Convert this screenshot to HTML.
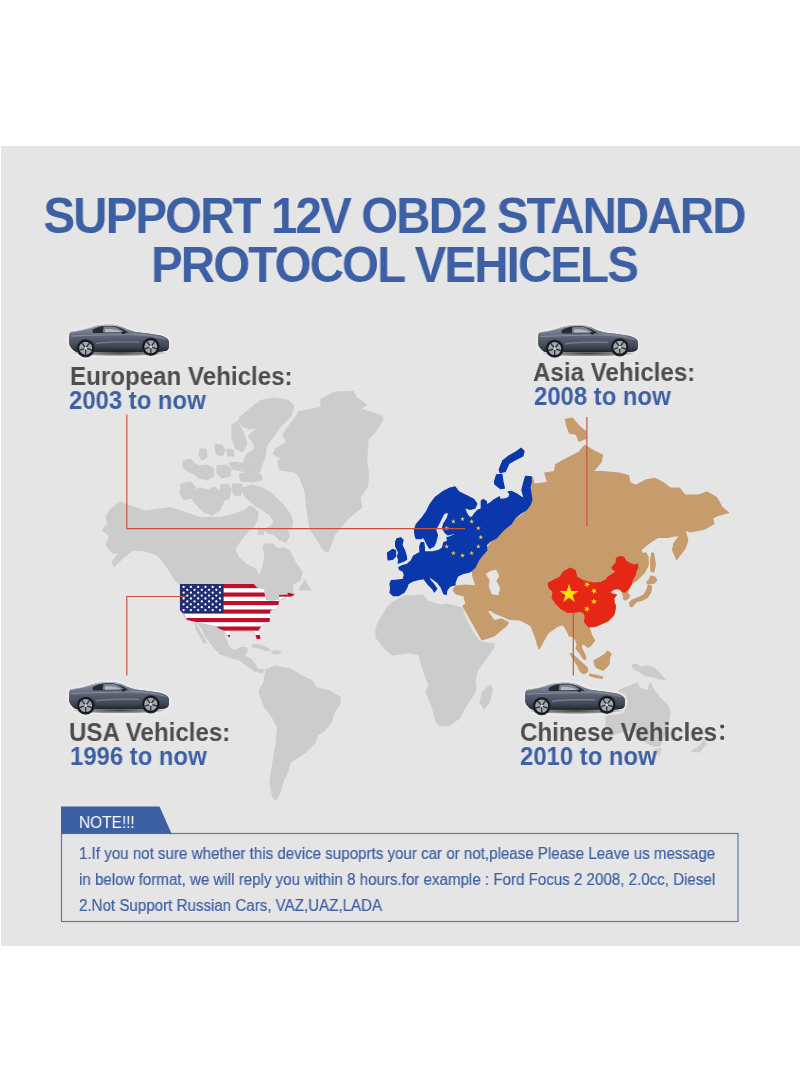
<!DOCTYPE html>
<html><head><meta charset="utf-8">
<style>
html,body{margin:0;padding:0;background:#fff;}
body{width:800px;height:1092px;position:relative;overflow:hidden;font-family:"Liberation Sans",sans-serif;}
#panel{position:absolute;left:1px;top:146px;width:799px;height:800px;background:#e5e5e5;}
.t{position:absolute;white-space:nowrap;will-change:transform;}
.title{left:-6.5px;width:800px;text-align:center;font-weight:bold;font-size:50px;color:#3d5fa3;letter-spacing:-2px;line-height:50px;transform:scaleX(0.95);transform-origin:400px 0;}
.lbl{font-weight:bold;font-size:25px;color:#4d4d4d;line-height:26px;transform:scaleX(0.965);transform-origin:0 0;}
.yr{font-weight:bold;font-size:25px;color:#3d5fa3;line-height:26px;transform:scaleX(0.955);transform-origin:0 0;}
.note{font-size:16px;color:#3d5fa3;-webkit-text-stroke:0.2px #3d5fa3;line-height:27px;transform:scaleX(0.945);transform-origin:0 0;}
#map{position:absolute;left:0;top:0;width:800px;height:1092px;}
</style></head><body>
<div id="panel"></div>
<svg id="map" viewBox="0 0 800 1092">
<defs>
<linearGradient id="cbody" x1="0" y1="0" x2="0" y2="1">
<stop offset="0" stop-color="#8f97a7"/><stop offset="0.28" stop-color="#707889"/><stop offset="0.5" stop-color="#565d6f"/><stop offset="0.78" stop-color="#434958"/><stop offset="1" stop-color="#23262e"/>
</linearGradient>
<linearGradient id="cbodyx" x1="0" y1="0" x2="1" y2="0">
<stop offset="0" stop-color="#20232b" stop-opacity="0.45"/><stop offset="0.12" stop-color="#20232b" stop-opacity="0"/><stop offset="0.68" stop-color="#20232b" stop-opacity="0"/><stop offset="0.78" stop-color="#20232b" stop-opacity="0.25"/><stop offset="0.92" stop-color="#aab2c0" stop-opacity="0.3"/><stop offset="1" stop-color="#20232b" stop-opacity="0.2"/>
</linearGradient>
<radialGradient id="cshadow" cx="0.5" cy="0.5" r="0.5"><stop offset="0" stop-color="#111" stop-opacity="0.8"/><stop offset="0.75" stop-color="#333" stop-opacity="0.45"/><stop offset="1" stop-color="#777" stop-opacity="0"/></radialGradient>
<radialGradient id="chalo" cx="0.5" cy="0.5" r="0.5"><stop offset="0.55" stop-color="#f2f2f2" stop-opacity="0.85"/><stop offset="1" stop-color="#f2f2f2" stop-opacity="0"/></radialGradient>
<symbol id="car" width="110" height="42" viewBox="-5 -5 110 42" overflow="visible">
<g stroke="#ececec" stroke-width="4.5" stroke-linejoin="round" fill="#ececec" opacity="0.85"><use href="#carb"/><circle cx="16.4" cy="23.4" r="8.6"/><circle cx="81.5" cy="22" r="8.6"/><ellipse cx="50" cy="28.5" rx="47" ry="2.5"/></g>
<ellipse cx="50" cy="28.2" rx="49" ry="3.2" fill="url(#cshadow)"/>
<path id="carb" d="M0,11.5 C0.2,9.5 0.5,8 1,7.3 C5,6.6 9,5.9 12.9,5.2 C16,4.4 19.5,3.4 22.7,2.4 C26,1.2 29,0.5 32.5,0.3 C36,0 40,-0.1 43.7,0 C46.2,0.3 48.5,0.8 50.7,1.4 C53,2.3 55.5,3.4 57.7,4.5 C60.5,5.6 63.3,6.5 66.1,7.3 C70,7.8 74.5,8.2 78.7,8.7 C83,9.2 87.3,9.9 91.3,10.8 C94,11.6 96.8,12.7 98.3,14.3 C99.3,15.5 99.7,17 99.7,18.5 C99.8,20.5 99.5,22.5 99,24.1 C98.3,25.4 97,26 95.5,26.2 L90,26.9 L7.3,26.9 C5,26.2 3.4,25 2.4,23.4 C1,22 0.2,20.5 0,18.5 Z" fill="url(#cbody)"/>
<use href="#carb" fill="url(#cbodyx)"/>
<path d="M1,7.5 C8,6.4 16,4.6 22.7,2.6 C27,1.2 31,0.6 36,0.5 C42,0.3 47,0.6 51,1.8" fill="none" stroke="#d5d9e0" stroke-width="0.7" opacity="0.8"/>
<path d="M23.4,5 C26.5,3.3 29.5,2 32.5,1.5 C37,1.1 41,1 45.1,1.2 C49.5,2.4 53,4 56.3,5.9 L59.1,8 L24.1,8.2 C23.2,7.2 23,6 23.4,5 Z" fill="#262a33"/>
<path d="M33.5,7.6 L34.2,2 C38,1.7 42,1.7 45,1.9 C48,2.9 51,4.4 53.5,6 L54.5,7.4 Z" fill="#9aa2b0" opacity="0.75"/>
<path d="M35.5,7.5 L36,4.2 C41,4 46,4.6 50,6 L52,7.4 Z" fill="#c9ced8" opacity="0.7"/>
<path d="M52,7 L55.6,7 L55.6,9.2 L53,9.2 Z" fill="#20232a"/>
<path d="M2,10.8 C20,9.8 45,9.6 62,9.2 L62,10 C45,10.6 20,10.9 2,12 Z" fill="#a7afbd" opacity="0.55"/>
<path d="M62,8.4 C74,8.6 86,10 96,13.4 L97,15 C86,12 74,10.6 62,10.4 Z" fill="#9199a8" opacity="0.55"/>
<path d="M27,17.6 C40,16.4 58,16.2 70,16.6 L70,18 C58,17.6 40,17.8 27,19.2 Z" fill="#8f97a6" opacity="0.6"/>
<path d="M26,25.6 L72,25.2 L72,26.9 L26,26.9 Z" fill="#23262e" opacity="0.7"/>
<circle cx="16.4" cy="23.4" r="9.2" fill="#2d3039"/>
<circle cx="81.5" cy="22" r="9.2" fill="#2d3039"/>
<circle cx="16.4" cy="23.4" r="8.2" fill="#14151a"/>
<circle cx="81.5" cy="22" r="8.2" fill="#14151a"/>
<circle cx="16.4" cy="23.4" r="6.5" fill="#a2a6ae"/>
<circle cx="81.5" cy="22" r="6.5" fill="#a2a6ae"/>
<g stroke="#2c2e34" stroke-width="1.3" stroke-linecap="butt">
<path d="M16.4,23.4 l0,-6.5 M16.4,23.4 l6.2,-2 M16.4,23.4 l3.8,5.3 M16.4,23.4 l-3.8,5.3 M16.4,23.4 l-6.2,-2" transform="rotate(36 16.4 23.4)"/>
<path d="M81.5,22 l0,-6.5 M81.5,22 l6.2,-2 M81.5,22 l3.8,5.3 M81.5,22 l-3.8,5.3 M81.5,22 l-6.2,-2" transform="rotate(36 81.5 22)"/>
</g>
<circle cx="16.4" cy="23.4" r="1.5" fill="#d0d3d8"/>
<circle cx="81.5" cy="22" r="1.5" fill="#d0d3d8"/>
</symbol>
</defs>

<g id="world" stroke="#cccccc" stroke-linejoin="round" stroke-width="1.2">
<path d="M106,517 L110,510 L120,502 L128,505 L145,511 L160,509 L170,507.5 L185,512.5 L200,517.5 L220,517.5 L235,514 L245,510 L250,506 L254,508 L258,512 L257,520 L254,526 L249,530 L244,536 L238,544 L235,550 L239,558 L247,565 L256,569 L259,577 L263,566 L265,556 L263,547 L265,544 L272.5,544 L277.5,549 L283,548 L289,550 L295,562 L302,572 L300,580 L292,585 L294,595 L280,600 L270,611 L269,620 L259,628 L258,634 L261,639 L258,640 L254,632 L230,631 L229,637 L222,631 L226,640 L229,647 L234,651 L241,647.5 L246,647.5 L247.5,651 L244,656 L251,659 L255,664 L257.5,669 L264,670 L262,673 L255,671 L247.5,666 L240,660 L230,657.5 L220,654 L212.5,645 L205,636 L202,628 L196,622 L186,619 L180,610 L180,585 L175,580 L167.5,567.5 L157.5,555 L145,551 L132.5,550 L124,557 L114,566 L112,562 L119,553 L112.5,553 L106,545 L110,536 L102.5,530 L108,524Z" fill="#cccccc" />
<path d="M195,623 L199,630 L203,637 L206,643 L204,643 L200,636 L196,629Z" fill="#cccccc" />
<path d="M305,580 L309,588 L311,590 L299,590Z" fill="#cccccc" />
<path d="M252,645 L258,644.5 L265,647 L270,650 L266,650.5 L259,648 L253,647Z" fill="#cccccc" />
<path d="M272,651 L277,650.5 L281,652.5 L277,654 L272,653Z" fill="#cccccc" />
<path d="M181,484 L190,482 L196,488 L192,498 L184,500 L180,493Z" fill="#cccccc" />
<path d="M194,492 L200,488 L208,490 L214,487 L221,492 L224,500 L220,510 L212,515 L204,512 L198,506 L193,500Z" fill="#cccccc" />
<path d="M183,461 L190,459 L195,464 L200,466 L206,465 L213,468 L214,476 L207,480 L199,478 L194,474 L188,471 L183,467Z" fill="#cccccc" />
<path d="M217,466 L225,465 L231,469 L230,476 L222,478 L217,473Z" fill="#cccccc" />
<path d="M221,485 L228,484 L231,490 L229,499 L223,500 L220,493Z" fill="#cccccc" />
<path d="M233,484 L241,484 L243,490 L240,496 L234,495 L232,489Z" fill="#cccccc" />
<path d="M200,449 L206,449 L207,457 L202,460 L199,455Z" fill="#cccccc" />
<path d="M215,444 L222,445 L225,451 L222,456 L216,454Z" fill="#cccccc" />
<path d="M227,449 L233,450 L234,456 L228,456Z" fill="#cccccc" />
<path d="M229,463 L236,462 L244,464 L252,466 L261,469 L259,473 L250,472 L241,471 L232,469Z" fill="#cccccc" />
<path d="M259,528 L264,530 L263,535 L258,534Z" fill="#cccccc" />
<path d="M239,474 L250,472 L261,475 L262,480 L252,482 L241,481Z" fill="#cccccc" />
<path d="M231.9,425.4 L237.4,421.25 L242.9,432.25 L247,443.25 L242.9,451.5 L236,448.75 L231.9,437.75Z" fill="#cccccc" />
<path d="M240,417 L249.75,408.9 L260.75,400.6 L274.5,397.9 L288.25,400.6 L293.75,406 L291,415.75 L280,426.75 L274.5,435 L266.25,446 L264.9,457 L260.75,468 L247,469.4 L242.9,462.5 L247,454.25 L255.25,448.75 L252.5,441.9 L248.4,436.4 L252.5,432.25 L258,428 L250,429 L242.9,426.75 L238.75,421.25Z" fill="#cccccc" />
<path d="M243,488 L252,485 L262,488 L270,492 L277,499 L284,506 L290,514 L293,522 L291,530 L287,528 L289,536 L286,542 L280,540 L275,535 L268,533 L264,529 L270,527 L274,522 L270,515 L263,510 L256,506 L249,500 L244,495Z" fill="#cccccc" />
<path d="M296.5,415.75 L299,411.6 L321,407.5 L321,399 L335,392 L353,391.5 L357,398 L366.6,404.75 L360,409 L381.8,415.75 L383,420 L375,432 L368,439 L366.6,462.5 L368.6,473.5 L367.5,486 L359.8,498 L361.7,507 L347.4,519 L335,534 L328,552 L324,550.5 L314.4,535.4 L310,528.5 L307.5,512 L304.8,490 L299,476 L295,472 L280,470 L277.8,461 L282.8,459.75 L273,453.7 L275.9,448.75 L286.9,441.9 L282.8,435 L288.3,426.75Z" fill="#cccccc" />
<path d="M266,670 L275,666 L290,669 L300,675 L312.5,681 L316,687.5 L330,691 L340,697.5 L340,704 L334,712.5 L331,722.5 L325,730 L317.5,735 L315,742.5 L305,752.5 L297.5,757.5 L290,762.5 L287.5,772.5 L282.5,782.5 L280,792.5 L276,800 L272.5,796 L270,782.5 L272.5,765 L276,745 L277.5,727.5 L272.5,717.5 L265,707.5 L260,696 L259,691 L264,682.5 L265,675Z" fill="#cccccc" />
<path d="M392.5,602.5 L404,596 L422.5,595 L427.5,601 L440,605 L447.5,604 L460,607.5 L462.5,608.5 L464.5,616 L469.5,626.5 L474,634 L479.5,641.5 L485,642.8 L494,643.5 L494,647.5 L485,660 L477.5,670 L475,680 L476,690 L470,700 L465,707.5 L460,717.5 L450,725 L440,726 L436,721 L432.5,707.5 L426,692.5 L429,685 L425,675 L421,662.5 L419,655 L411,652.5 L392.5,655 L384,647.5 L376,637.5 L376,627.5 L382.5,615 L387.5,607.5Z" fill="#cccccc" />
<path d="M490,685 L492.5,690 L489,702.5 L484,709 L480,702.5 L482.5,692.5Z" fill="#cccccc" />
<path d="M632,665 L636,664 L640,667 L648,666 L654,668 L660,674 L665,680 L660,679 L654,677 L646,676 L640,672 L634,669Z" fill="#cccccc" />
<path d="M620,690 L630,686 L637,683 L640,688 L648,691 L650,683 L654,690 L660,698 L668,706 L670,714 L668,726 L664,736 L660,746 L652,746 L646,742 L640,738 L636,732 L628,730 L618,733 L610,736 L606,728 L606,714 L610,703Z" fill="#cccccc" />
<path d="M655,749 L661,749 L659,755 L656,754Z" fill="#cccccc" />
<path d="M704,740 L706,744 L699,752 L692,751 L700,746Z" fill="#cccccc" />
</g>
<path d="M250,550 L251,550 L251,551Z" fill="#e5e5e5" stroke="#e5e5e5" stroke-width="0.6" stroke-linejoin="round"/>
<g id="asia" stroke="#c69c6d" stroke-linejoin="round" stroke-width="1.2">
<path d="M532.5,477 L534,484 L547.5,482.5 L544.75,473 L554.4,471.5 L555.75,464.6 L568,457.75 L579,452.25 L584.6,445.4 L594.25,451 L602.5,455 L601,462 L593,471.5 L602.5,471.5 L619,473 L628.6,475.6 L630,482.5 L635.5,485.25 L646.5,479.75 L654.75,478.4 L663,482.5 L670,488 L679.5,488 L685,495 L698.75,495 L707,492 L716.6,497.6 L722,507.25 L728.5,512.75 L718,515.5 L712.5,518.25 L714,523.75 L704.25,529.25 L690.5,532 L685,530 L687.75,540.25 L685,548.5 L676.75,559.5 L672.6,549.9 L674,543 L679.5,536 L674,536 L668.5,537.5 L657.5,537.5 L649.25,543 L641,549.9 L642.2,553.7 L645.7,552.9 L647.9,556.4 L648.4,564.2 L646.6,568.6 L644,573 L640.5,576.5 L637,580 L633.5,582.6 L630.9,585.2 L628.2,589.6 L627.4,593.1 L629.6,595.7 L628.2,598.4 L625.2,600.1 L623.4,598.8 L623.4,595.7 L621.7,591.4 L620.4,589.2 L616.9,588.7 L613.8,589.2 L609.9,592.2 L612.5,594 L616.4,594.9 L613.8,598.4 L614.2,602.7 L615.6,606.2 L614.7,611.5 L613.8,615 L608.6,620.6 L601.2,623.9 L595.4,626.4 L588.8,626.8 L592,636 L594.6,640.4 L591.3,645 L588,647.4 L583.4,643.7 L582.2,644.1 L581,647 L583,651 L585.9,657 L585.5,659.4 L583,658.5 L579.7,652.8 L576,648.6 L577.3,644.5 L575.6,639.6 L572.7,636.3 L569,635.9 L568.2,633 L563.2,624.7 L558,626 L548,633 L544,640 L539,649 L535,636 L531,626 L528,624 L520,620 L510,619.5 L502.5,616.3 L495,613.3 L489,609.3 L487.6,611.5 L494.25,620.7 L501.75,618.9 L508.5,622.75 L506,626 L494,636 L482,640 L473,624 L463,606 L466,604 L464,596 L456,594 L453,590 L456,586 L466,585 L476,586 L473,577 L472,570 L478,560 L486,549 L495,537.5 L505,530 L515,520 L525,512.5 L531,502.5Z" fill="#c69c6d" />
<path d="M565.4,419.25 L572,418 L579,426 L586,431.6 L586,438.5 L579,441.25 L576.4,434.4 L569.5,433 L566.75,426Z" fill="#c69c6d" />
<path d="M651.9,552.9 L653.6,553.3 L655.4,565.1 L653.6,572.1 L651,571.2 L650.6,560.7Z" fill="#c69c6d" />
<path d="M650.6,576.1 L655.4,577.4 L656.7,580 L653.6,583.5 L647.5,583.9 L647.1,581.7 L649.7,579.1Z" fill="#c69c6d" />
<path d="M648.4,585.2 L651.4,586.1 L651,591.4 L647.5,597.5 L642.2,600.1 L636.1,601.9 L632.6,606.2 L630.4,606.7 L629.6,602.7 L632.6,599.7 L638.7,597.5 L644,594.9 L646.6,590.5Z" fill="#c69c6d" />
<path d="M570.25,653.6 L572.7,654.4 L579.7,661 L587.2,667.6 L587.6,671.7 L583.9,673.8 L580.6,671.7 L577.3,665.1 L573.1,658.5Z" fill="#c69c6d" />
<path d="M594.2,660.6 L599.5,657.7 L604.5,654.4 L607.8,651.1 L611.1,654 L609.4,657.7 L609.4,663.5 L605.3,668.4 L602.8,670.1 L597,668 L594.6,664.3Z" fill="#c69c6d" />
<path d="M589.6,674.2 L596.2,675.4 L602.8,677.1 L602,678.3 L594.6,677.1 L589.6,675.4Z" fill="#c69c6d" />
</g>
<path d="M486,574 L491,571 L496,570 L499,576 L496,581 L500,588 L498,595 L492,594 L489,586 L490,580Z" fill="#e5e5e5" stroke="#e5e5e5" stroke-width="0.6" stroke-linejoin="round"/>
<g id="europe" stroke="#0a38aa" stroke-linejoin="round" stroke-width="1.2">
<path d="M390,592.5 L390.6,588.75 L390,583.75 L391.25,580.6 L397.5,580 L403.1,579.4 L404.4,575 L403.1,571.25 L399.4,569.4 L398.75,567.5 L402.5,565.5 L407.3,564.3 L411,561 L413.6,556 L416.25,554.4 L420,552.5 L419.75,546.25 L421.25,542.5 L423.75,542.5 L424.4,547.5 L424.4,551.9 L429.4,551.9 L432.5,551.9 L438.75,550.25 L442.5,548.1 L443.75,542.5 L447.5,541.25 L446.9,537.5 L450,536.9 L455.6,534.4 L455,533.1 L448,535 L445,532.5 L442.5,528.1 L443.75,523.75 L447.5,517.5 L448.75,513.1 L446.25,512.5 L443.75,513.75 L441.9,517.5 L438.75,523.75 L435.6,530 L437.5,535 L435.6,542.5 L433.75,546.25 L430,548.1 L429.4,548.1 L427.5,545 L425,540 L423.1,536.9 L421.25,538.75 L416.25,538.75 L415,535 L414.4,530 L416.25,524.4 L421.25,518.75 L426.25,511.9 L430,504.4 L435,497.5 L442.5,491.9 L450,488.1 L455,486.9 L458.75,491.9 L466.25,495.6 L473.75,499.4 L476.9,503.75 L475,508.1 L470,509.4 L464.4,507.5 L466.25,512.5 L468.75,516.9 L471.9,517.5 L475,513.1 L478.1,510 L481.25,508.75 L481.25,501.25 L483.1,499.4 L486.25,501.25 L486.9,505 L490,503.1 L493.75,500 L499.4,496.9 L500,499.4 L505,498.75 L508.75,497.5 L510,493.75 L508.1,491.9 L511.25,491.25 L517.5,494.4 L522.5,498.1 L523.75,496.9 L521.9,490 L523.75,482.5 L525.6,476.25 L531.25,476.9 L531.25,482.5 L530,487.5 L531.25,495 L531.9,500 L530,505 L526.25,510 L520,513.75 L515,518.1 L511.25,523.75 L505,528.75 L500,533.75 L496.25,538.1 L490,541.25 L486.25,545 L486.9,550 L482.5,555 L478.75,560 L475,567.5 L470,571.9 L462.5,573.75 L457.5,576.25 L455,582.5 L455,585 L450,586.25 L446.9,590 L446.25,594.4 L443.75,593.75 L441.25,587.5 L437.5,582.5 L432.5,578.75 L428.1,576.25 L430,580 L433.75,584.4 L436.9,588.75 L434.4,591.9 L432.5,588.75 L427.5,583.75 L423.75,578.75 L418.75,579.4 L412.5,581.25 L408.1,583.75 L406.9,587.5 L404.4,591.9 L398.75,595.6 L393.1,595.6Z" fill="#0a38aa" />
<path d="M396.9,538.75 L400.6,537.75 L403.1,540 L401.9,545 L404.4,550 L406.3,556 L406.6,559.4 L403.1,561.5 L398.1,563.1 L398.75,560 L397.5,556.25 L398.75,552.5 L395.6,546.25 L395.6,541.9Z" fill="#0a38aa" />
<path d="M387.5,553.1 L392.5,549.4 L395.6,550.6 L395.6,556.25 L392.5,559.4 L388.1,560Z" fill="#0a38aa" />
<path d="M521.1,448.2 L524.1,451.1 L522.9,455.9 L515,459.9 L508.9,463.4 L505.4,471.3 L500.1,472.7 L499.25,469.5 L502.75,460.75 L508.9,455.9 L515.9,452Z" fill="#0a38aa" />
<path d="M496.6,474.75 L501.9,474.4 L503.1,482.5 L504.4,488.1 L500.6,488.75 L495,484.4 L494.4,481.9Z" fill="#0a38aa" />
</g>
<path d="M462.5,516.5 L463.06,518.23 L464.88,518.23 L463.41,519.3 L463.97,521.02 L462.5,519.96 L461.03,521.02 L461.59,519.3 L460.12,518.23 L461.94,518.23Z" fill="#f0d24a" />
<path d="M471.65,518.95 L472.21,520.68 L474.03,520.68 L472.56,521.75 L473.12,523.47 L471.65,522.41 L470.18,523.47 L470.74,521.75 L469.27,520.68 L471.09,520.68Z" fill="#f0d24a" />
<path d="M478.35,525.65 L478.91,527.38 L480.73,527.38 L479.26,528.45 L479.82,530.17 L478.35,529.11 L476.88,530.17 L477.44,528.45 L475.97,527.38 L477.79,527.38Z" fill="#f0d24a" />
<path d="M480.8,534.8 L481.36,536.53 L483.18,536.53 L481.71,537.6 L482.27,539.32 L480.8,538.25 L479.33,539.32 L479.89,537.6 L478.42,536.53 L480.24,536.53Z" fill="#f0d24a" />
<path d="M478.35,543.95 L478.91,545.68 L480.73,545.68 L479.26,546.75 L479.82,548.47 L478.35,547.4 L476.88,548.47 L477.44,546.75 L475.97,545.68 L477.79,545.68Z" fill="#f0d24a" />
<path d="M471.65,550.65 L472.21,552.38 L474.03,552.38 L472.56,553.44 L473.12,555.17 L471.65,554.1 L470.18,555.17 L470.74,553.44 L469.27,552.38 L471.09,552.38Z" fill="#f0d24a" />
<path d="M462.5,553.1 L463.06,554.83 L464.88,554.83 L463.41,555.9 L463.97,557.62 L462.5,556.55 L461.03,557.62 L461.59,555.9 L460.12,554.83 L461.94,554.83Z" fill="#f0d24a" />
<path d="M453.35,550.65 L453.91,552.38 L455.73,552.38 L454.26,553.44 L454.82,555.17 L453.35,554.1 L451.88,555.17 L452.44,553.44 L450.97,552.38 L452.79,552.38Z" fill="#f0d24a" />
<path d="M446.65,543.95 L447.21,545.68 L449.03,545.68 L447.56,546.75 L448.12,548.47 L446.65,547.4 L445.18,548.47 L445.74,546.75 L444.27,545.68 L446.09,545.68Z" fill="#f0d24a" />
<path d="M446.65,525.65 L447.21,527.38 L449.03,527.38 L447.56,528.45 L448.12,530.17 L446.65,529.11 L445.18,530.17 L445.74,528.45 L444.27,527.38 L446.09,527.38Z" fill="#f0d24a" />
<path d="M453.35,518.95 L453.91,520.68 L455.73,520.68 L454.26,521.75 L454.82,523.47 L453.35,522.41 L451.88,523.47 L452.44,521.75 L450.97,520.68 L452.79,520.68Z" fill="#f0d24a" />
<path d="M548,583 L560,577 L563,572 L570,568 L575,570 L577,577 L584,581 L594,583 L600.2,582.6 L606.4,579.6 L607.2,577.4 L614.2,573 L616,570.8 L612.5,569.5 L612,566.9 L616,562.5 L616.4,558.1 L620.4,556.4 L623.9,557.2 L625.6,560.7 L630,563.4 L634.4,565.1 L637.4,563.8 L637.9,567.7 L636.1,571.2 L635.2,575.6 L632.6,580 L630.9,585.2 L628.2,589.6 L624.7,592.2 L621.7,591.4 L620.4,589.2 L616.9,588.7 L613.8,589.2 L609.9,592.2 L612.5,594 L616.4,594.9 L613.8,598.4 L614.2,602.7 L615.6,606.2 L614.7,611.5 L613.8,615 L608.6,620.6 L601.2,623.9 L595.4,626.4 L588.8,626.8 L588,626.4 L584.7,622.3 L585.1,615.7 L583.4,612.4 L579.7,611.5 L573.1,612.4 L567.4,612.4 L560,608.2 L555,602.5 L552,598 L553,592 L549,588Z" fill="#e42815" stroke="#e42815" stroke-width="1" stroke-linejoin="round"/>
<path d="M569,584 L571.25,590.91 L578.51,590.91 L572.63,595.18 L574.88,602.09 L569,597.82 L563.12,602.09 L565.37,595.18 L559.49,590.91 L566.75,590.91Z" fill="#ffe200" />
<path d="M584.09,585.95 L585.75,584.23 L584.62,582.11 L586.78,583.16 L588.44,581.43 L588.11,583.81 L590.27,584.86 L587.91,585.27 L587.58,587.65 L586.45,585.53Z" fill="#ffe200" />
<path d="M590.72,591.39 L592.9,590.39 L592.61,588.01 L594.24,589.76 L596.42,588.76 L595.25,590.85 L596.88,592.61 L594.53,592.14 L593.36,594.24 L593.08,591.86Z" fill="#ffe200" />
<path d="M590.84,600.64 L593.24,600.59 L593.94,598.3 L594.72,600.57 L597.12,600.52 L595.21,601.97 L595.99,604.23 L594.02,602.86 L592.11,604.31 L592.81,602.01Z" fill="#ffe200" />
<path d="M584.46,606.89 L586.69,607.78 L588.23,605.94 L588.07,608.33 L590.29,609.22 L587.97,609.81 L587.81,612.2 L586.53,610.17 L584.21,610.76 L585.74,608.92Z" fill="#ffe200" />
<clipPath id="usaclip"><path d="M180,584 L254,584 L257,587.5 L264,589 L265,596 L266,600 L272,601 L279,599.5 L279,595 L288,594.5 L287,592 L294.5,594.5 L288,599.5 L286,597 L279,600 L278.5,605 L274,609 L270,611 L270,618 L269.5,622 L264,624 L260,628 L258.5,631 L260,636 L260.5,640 L257,640 L255.5,635 L254,631 L230,631 L230,637.5 L228,636 L224,631 L218,628 L216,626 L196,622 L187,620 L185,615 L180,610Z"/></clipPath>
<g clip-path="url(#usaclip)">
<rect x="175" y="580" width="125" height="65" fill="#ffffff"/>
<rect x="175" y="584" width="125" height="4.15" fill="#bf0d2c"/>
<rect x="175" y="592.5" width="125" height="4.15" fill="#bf0d2c"/>
<rect x="175" y="601" width="125" height="4.15" fill="#bf0d2c"/>
<rect x="175" y="609.5" width="125" height="4.15" fill="#bf0d2c"/>
<rect x="175" y="618" width="125" height="4.15" fill="#bf0d2c"/>
<rect x="175" y="626.5" width="125" height="4.15" fill="#bf0d2c"/>
<rect x="175" y="635" width="125" height="4.15" fill="#bf0d2c"/>
<rect x="175" y="580" width="48.6" height="33" fill="#232f73"/>
<circle cx="183.63" cy="586.90" r="1.15" fill="#fff"/>
<circle cx="190.90" cy="586.90" r="1.15" fill="#fff"/>
<circle cx="198.17" cy="586.90" r="1.15" fill="#fff"/>
<circle cx="205.43" cy="586.90" r="1.15" fill="#fff"/>
<circle cx="212.70" cy="586.90" r="1.15" fill="#fff"/>
<circle cx="219.97" cy="586.90" r="1.15" fill="#fff"/>
<circle cx="187.27" cy="589.80" r="1.15" fill="#fff"/>
<circle cx="194.53" cy="589.80" r="1.15" fill="#fff"/>
<circle cx="201.80" cy="589.80" r="1.15" fill="#fff"/>
<circle cx="209.07" cy="589.80" r="1.15" fill="#fff"/>
<circle cx="216.33" cy="589.80" r="1.15" fill="#fff"/>
<circle cx="183.63" cy="592.70" r="1.15" fill="#fff"/>
<circle cx="190.90" cy="592.70" r="1.15" fill="#fff"/>
<circle cx="198.17" cy="592.70" r="1.15" fill="#fff"/>
<circle cx="205.43" cy="592.70" r="1.15" fill="#fff"/>
<circle cx="212.70" cy="592.70" r="1.15" fill="#fff"/>
<circle cx="219.97" cy="592.70" r="1.15" fill="#fff"/>
<circle cx="187.27" cy="595.60" r="1.15" fill="#fff"/>
<circle cx="194.53" cy="595.60" r="1.15" fill="#fff"/>
<circle cx="201.80" cy="595.60" r="1.15" fill="#fff"/>
<circle cx="209.07" cy="595.60" r="1.15" fill="#fff"/>
<circle cx="216.33" cy="595.60" r="1.15" fill="#fff"/>
<circle cx="183.63" cy="598.50" r="1.15" fill="#fff"/>
<circle cx="190.90" cy="598.50" r="1.15" fill="#fff"/>
<circle cx="198.17" cy="598.50" r="1.15" fill="#fff"/>
<circle cx="205.43" cy="598.50" r="1.15" fill="#fff"/>
<circle cx="212.70" cy="598.50" r="1.15" fill="#fff"/>
<circle cx="219.97" cy="598.50" r="1.15" fill="#fff"/>
<circle cx="187.27" cy="601.40" r="1.15" fill="#fff"/>
<circle cx="194.53" cy="601.40" r="1.15" fill="#fff"/>
<circle cx="201.80" cy="601.40" r="1.15" fill="#fff"/>
<circle cx="209.07" cy="601.40" r="1.15" fill="#fff"/>
<circle cx="216.33" cy="601.40" r="1.15" fill="#fff"/>
<circle cx="183.63" cy="604.30" r="1.15" fill="#fff"/>
<circle cx="190.90" cy="604.30" r="1.15" fill="#fff"/>
<circle cx="198.17" cy="604.30" r="1.15" fill="#fff"/>
<circle cx="205.43" cy="604.30" r="1.15" fill="#fff"/>
<circle cx="212.70" cy="604.30" r="1.15" fill="#fff"/>
<circle cx="219.97" cy="604.30" r="1.15" fill="#fff"/>
<circle cx="187.27" cy="607.20" r="1.15" fill="#fff"/>
<circle cx="194.53" cy="607.20" r="1.15" fill="#fff"/>
<circle cx="201.80" cy="607.20" r="1.15" fill="#fff"/>
<circle cx="209.07" cy="607.20" r="1.15" fill="#fff"/>
<circle cx="216.33" cy="607.20" r="1.15" fill="#fff"/>
<circle cx="183.63" cy="610.10" r="1.15" fill="#fff"/>
<circle cx="190.90" cy="610.10" r="1.15" fill="#fff"/>
<circle cx="198.17" cy="610.10" r="1.15" fill="#fff"/>
<circle cx="205.43" cy="610.10" r="1.15" fill="#fff"/>
<circle cx="212.70" cy="610.10" r="1.15" fill="#fff"/>
<circle cx="219.97" cy="610.10" r="1.15" fill="#fff"/>
</g>
<g id="lines" stroke="#c9503d" stroke-width="1.15" fill="none">
<path d="M126.8,414.5 V528.6 H465"/>
<path d="M586.9,417 V526.5"/>
<path d="M186,596.5 H126.8 V675.6"/>
<path d="M573.3,612.4 V675.4"/>
</g>
<g id="notebox">
<rect x="61.5" y="833.5" width="676.5" height="88" fill="none" stroke="#5f78ad" stroke-width="1.2"/>
<path d="M61 806.5 H159.5 L171.5 833.5 H61 Z" fill="#3d5fa3"/>
</g>
<use href="#car" x="64.3" y="319.8"/>
<use href="#car" x="533.3" y="320.2"/>
<use href="#car" x="64.3" y="677.2"/>
<use href="#car" x="520.3" y="677.7"/>
<circle cx="722.2" cy="726.5" r="2.1" fill="#4d4d4d"/><circle cx="722.2" cy="737.9" r="2.1" fill="#4d4d4d"/>

</svg>
<div class="t" id="nt" style="left:79px;top:812.5px;font-size:16px;color:#fff;line-height:20px;transform:scaleX(0.965);transform-origin:0 0;">NOTE!!!</div>
<div class="t title" id="t1" style="top:191px;">SUPPORT 12V OBD2 STANDARD</div>
<div class="t title" id="t2" style="top:240.4px;">PROTOCOL VEHICELS</div>
<div class="t lbl" id="l1" style="left:69.5px;top:363px;">European Vehicles:</div>
<div class="t yr" id="y1" style="left:69px;top:387.2px;">2003 to now</div>
<div class="t lbl" id="l2" style="left:533px;top:359.3px;">Asia Vehicles:</div>
<div class="t yr" id="y2" style="left:533.5px;top:383.2px;">2008 to now</div>
<div class="t lbl" id="l3" style="left:68.7px;top:719px;">USA Vehicles:</div>
<div class="t yr" id="y3" style="left:69.5px;top:743px;">1996 to now</div>
<div class="t lbl" id="l4" style="left:520px;top:719px;">Chinese Vehicles</div>
<div class="t yr" id="y4" style="left:520.3px;top:743px;">2010 to now</div>
<div class="t note" id="n1" style="left:79px;top:840px;">1.If you not sure whether this device supoprts your car or not,please Please Leave us message</div>
<div class="t note" id="n2" style="left:79px;top:866px;">in below format, we will reply you within 8 hours.for example : Ford Focus 2 2008, 2.0cc, Diesel</div>
<div class="t note" id="n3" style="left:79px;top:892px;">2.Not Support Russian Cars, VAZ,UAZ,LADA</div>
</body></html>
